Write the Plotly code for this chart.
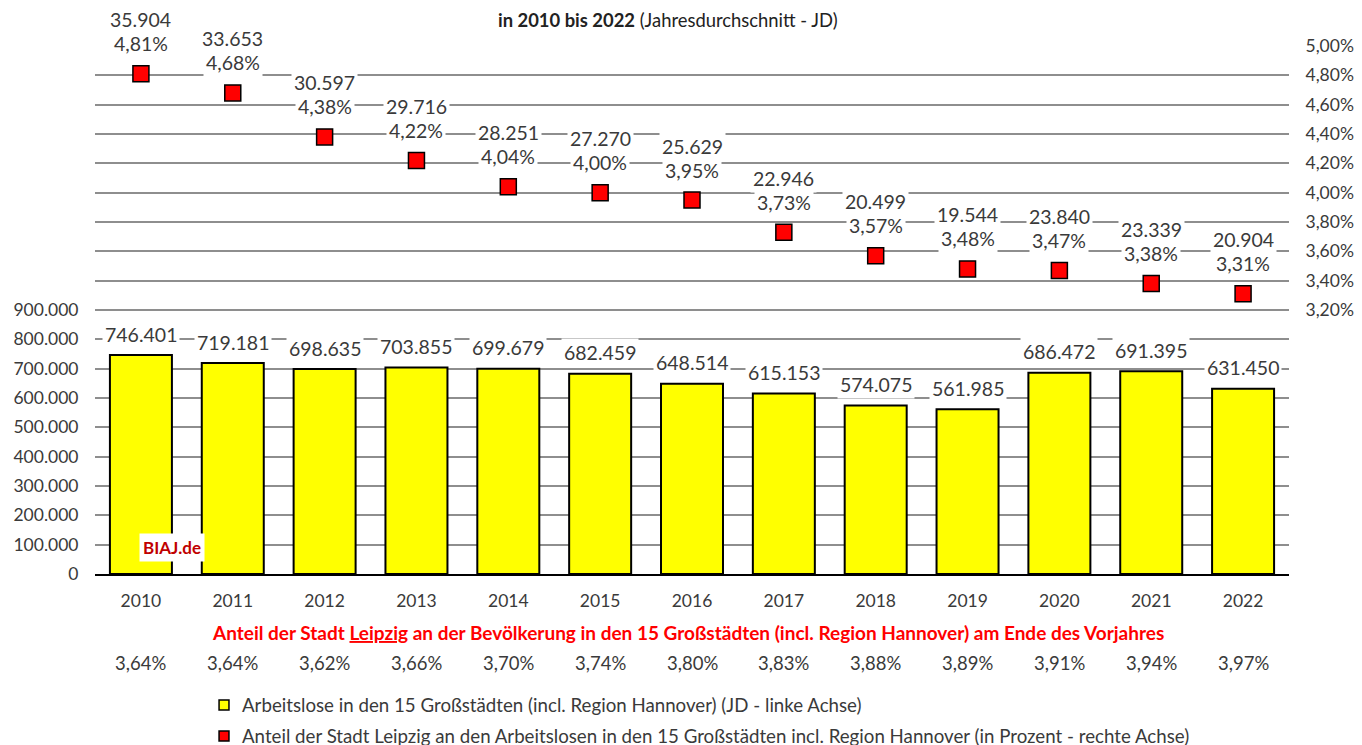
import plotly.graph_objects as go

years = ["2010", "2011", "2012", "2013", "2014", "2015", "2016",
         "2017", "2018", "2019", "2020", "2021", "2022"]
unemployed_15 = [746401, 719181, 698635, 703855, 699679, 682459, 648514,
                 615153, 574075, 561985, 686472, 691395, 631450]
leipzig_count = [35904, 33653, 30597, 29716, 28251, 27270, 25629,
                 22946, 20499, 19544, 23840, 23339, 20904]
leipzig_share = [4.81, 4.68, 4.38, 4.22, 4.04, 4.00, 3.95,
                 3.73, 3.57, 3.48, 3.47, 3.38, 3.31]
pop_share = [3.64, 3.64, 3.62, 3.66, 3.70, 3.74, 3.80,
             3.83, 3.88, 3.89, 3.91, 3.94, 3.97]
left_ticks = [0, 100000, 200000, 300000, 400000, 500000, 600000, 700000, 800000, 900000]
right_ticks = [3.2, 3.4, 3.6, 3.8, 4.0, 4.2, 4.4, 4.6, 4.8, 5.0]
legend_names = [
    "Arbeitslose in den 15 Großstädten (incl. Region Hannover) (JD - linke Achse)",
    "Anteil der Stadt Leipzig an den Arbeitslosen in den 15 Großstädten incl. Region Hannover (in Prozent - rechte Achse)",
]

FONT = "Lato"
TXT = "#3a3a3a"
GRID = "#8e8e8e"
BAR_COLOR = "#FFFF00"
MARK_COLOR = "#FF0000"


def de_int(v):
    return f"{v:,}".replace(",", ".")


def de_pct(v):
    return f"{v:.2f}".replace(".", ",") + "%"


fig = go.Figure()
fig.add_trace(go.Bar(
    x=years, y=unemployed_15, name=legend_names[0], showlegend=False,
    marker=dict(color=BAR_COLOR, line=dict(color="black", width=2)),
))
fig.add_trace(go.Scatter(
    x=years, y=leipzig_share, yaxis="y2", mode="markers", name=legend_names[1], showlegend=False,
    marker=dict(symbol="square", size=16, color=MARK_COLOR, line=dict(color="black", width=1.5)),
))

LBL = dict(family=FONT, size=19.5, color=TXT)
ann = []
for i, v in enumerate(unemployed_15):
    ann.append(dict(x=i, y=v, xref="x", yref="y", text=de_int(v), showarrow=False,
                    yanchor="middle", yshift=21, bgcolor="white", borderpad=2, font=LBL))
for i, (c, s) in enumerate(zip(leipzig_count, leipzig_share)):
    ann.append(dict(x=i, y=s, xref="x", yref="y2", text=de_pct(s), showarrow=False,
                    yanchor="middle", yshift=30, bgcolor="white", borderpad=2, font=LBL))
    ann.append(dict(x=i, y=s, xref="x", yref="y2", text=de_int(c), showarrow=False,
                    yanchor="middle", yshift=54, bgcolor="white", borderpad=2, font=LBL))
for i, p in enumerate(pop_share):
    ann.append(dict(x=i, y=-0.1686, xref="x", yref="paper", text=de_pct(p), showarrow=False,
                    yanchor="middle", font=dict(family=FONT, size=18.5, color=TXT)))
ann.append(dict(x=0.497, y=-0.1117, xref="paper", yref="paper", showarrow=False,
                xanchor="center", yanchor="middle",
                text="<b>Anteil der Stadt <u>Leipzig</u> an der Bevölkerung in den 15 Großstädten (incl. Region Hannover) am Ende des Vorjahres</b>",
                font=dict(family=FONT, size=19, color="#FF0000")))
ann.append(dict(x=0.48, y=1.0, xref="paper", yref="paper", showarrow=False,
                xanchor="center", yanchor="top", yshift=38, borderpad=0,
                text="<b>in 2010 bis 2022</b> (Jahresdurchschnitt - JD)",
                font=dict(family=FONT, size=18.4, color="#222")))
ann.append(dict(x=0.0645, y=0.051, xref="paper", yref="paper", showarrow=False,
                xanchor="center", yanchor="middle",
                text="<b>BIAJ.de</b>", bgcolor="white", borderpad=3,
                font=dict(family=FONT, size=17, color="#C00000")))

# manual legend
shapes = []
leg_y = [-0.2481, -0.3068]
leg_cols = [BAR_COLOR, MARK_COLOR]
for yy, col, name in zip(leg_y, leg_cols, legend_names):
    shapes.append(dict(type="rect", xref="paper", yref="paper",
                       x0=0.1039, x1=0.1122, y0=yy - 0.0095, y1=yy + 0.0095,
                       fillcolor=col, line=dict(color="black", width=1.5)))
    ann.append(dict(x=0.1214, y=yy, xref="paper", yref="paper", xanchor="left", yanchor="middle",
                    showarrow=False, text=name, font=dict(family=FONT, size=18.7, color=TXT)))

TICK = dict(family=FONT, size=17.5, color=TXT)
# the page adds an 8px body margin, so the margins are 8px smaller at left/top
fig.update_layout(
    width=1362, height=745,
    margin=dict(l=87, r=81, t=38, b=179, autoexpand=False),
    paper_bgcolor="white", plot_bgcolor="white",
    bargap=0.325,
    showlegend=False,
    xaxis=dict(type="category", range=[-0.5, 12.5], showline=True, linecolor="black", linewidth=2,
               showgrid=False, ticks="outside", ticklen=10, tickcolor="rgba(0,0,0,0)",
               automargin=False, tickfont=TICK),
    yaxis=dict(range=[0, 1800000], tickvals=left_ticks, ticktext=[de_int(v) for v in left_ticks],
               showgrid=True, gridcolor=GRID, gridwidth=2, zeroline=False,
               ticks="outside", ticklen=12, tickcolor="rgba(0,0,0,0)",
               automargin=False, tickfont=TICK),
    yaxis2=dict(range=[1.4, 5.0], overlaying="y", side="right", tickvals=right_ticks,
                ticktext=[de_pct(v) for v in right_ticks],
                showgrid=True, gridcolor=GRID, gridwidth=2, zeroline=False,
                ticks="outside", ticklen=12, tickcolor="rgba(0,0,0,0)",
                automargin=False, tickfont=TICK),
    annotations=ann,
    shapes=shapes,
    hovermode=False,
)

fig.write_html("out.html")
